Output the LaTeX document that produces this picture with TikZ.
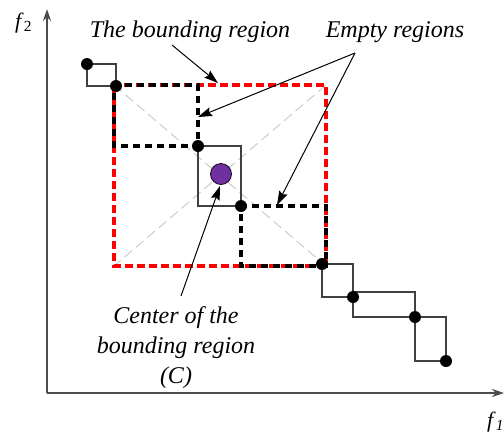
\documentclass[tikz,border=0pt]{standalone}
\usepackage{fontspec}
\setmainfont{Liberation Serif}
\usetikzlibrary{arrows.meta}
\definecolor{centerpurple}{HTML}{7030A0}
\begin{document}
\begin{tikzpicture}[x=1pt,y=-1pt,
  pt/.style={circle,fill=black,inner sep=0pt,minimum size=12pt},
  cell/.style={draw=black!75,line width=1.2pt},
  bound/.style={draw=red,line width=3.6pt,dash pattern=on 8pt off 4pt},
  emptyreg/.style={draw=black,line width=3.4pt,dash pattern=on 7pt off 5pt,dash phase=4pt},
  diag/.style={draw=black!20,line width=1pt,dash pattern=on 10pt off 5pt},
  axis/.style={draw=black!70,line width=1.8pt,-{Stealth[length=12pt,width=8pt]}},
  callout/.style={draw=black,line width=1pt,-{Stealth[length=14pt,width=9pt,inset=2pt]}},
  lbl/.style={font=\fontsize{24}{30}\selectfont\itshape,inner sep=0pt}
]
\useasboundingbox (0,0) rectangle (504,432);

% axes
\coordinate (origin) at (47,393);
\coordinate (ytop) at (47,9);
\coordinate (xend) at (504,393);
\draw[axis] (origin) -- (ytop);
\draw[axis] (origin) -- (xend);
\node[font=\fontsize{22}{26}\selectfont,anchor=base west,inner sep=0pt] (f2) at (15,28) {\textit{f}\textsubscript{2}};
\node[font=\fontsize{22}{26}\selectfont,anchor=base west,inner sep=0pt] (f1) at (487,427) {\textit{f}\textsubscript{\textit{1}}};

% corners of the bounding region
\coordinate (bl) at (114,266);
\coordinate (br) at (326,266);
\coordinate (tl) at (114,85);
\coordinate (tr) at (326,85);

% non-dominated points
\coordinate (q1) at (87,64);
\coordinate (q2) at (116,86);
\coordinate (q3) at (198,146);
\coordinate (q4) at (241,206);
\coordinate (q5) at (322,264);
\coordinate (q6) at (353,297);
\coordinate (q7) at (415,317);
\coordinate (q8) at (446,361);

% diagonals of the bounding region
\draw[diag] (tl) -- (br);
\draw[diag] (tr) -- (bl);

% dominated cells
\draw[cell] (q1) rectangle (q2);
\draw[cell] (q3) rectangle (q4);
\draw[cell] (q5) rectangle (q6);
\draw[cell] (353,292) rectangle (q7);
\draw[cell] (q7) rectangle (q8);

% bounding region and empty regions
\draw[bound] (tl) rectangle (br);
\draw[emptyreg] (tl) rectangle (q3);
\draw[emptyreg] (q4) rectangle (br);

% center of the bounding region
\node[circle,fill=centerpurple,draw=black!80!centerpurple,line width=0.8pt,minimum size=21pt,inner sep=0pt] (c) at (221,174) {};

% points on top
\foreach \i in {1,...,8} \node[pt] (p\i) at (q\i) {};

% labels
\node[lbl,anchor=base] (tb) at (190,37) {The bounding region};
\node[lbl,anchor=base] (te) at (395,37) {Empty regions};
\node[lbl,anchor=north,align=center] (tc) at (176,306) {Center of the\\bounding region\\(C)};

% callout arrows
\coordinate (tbTail) at (172,45);
\coordinate (tbTip) at (218,83);
\coordinate (teTail) at (355,53);
\coordinate (teTipA) at (198,117);
\coordinate (teTipB) at (277,205);
\coordinate (tcTail) at (181,296);
\coordinate (tcTip) at (220,186);
\draw[callout] (tbTail) -- (tbTip);
\draw[callout] (teTail) -- (teTipA);
\draw[callout] (teTail) -- (teTipB);
\draw[callout] (tcTail) -- (tcTip);
\end{tikzpicture}
\end{document}
